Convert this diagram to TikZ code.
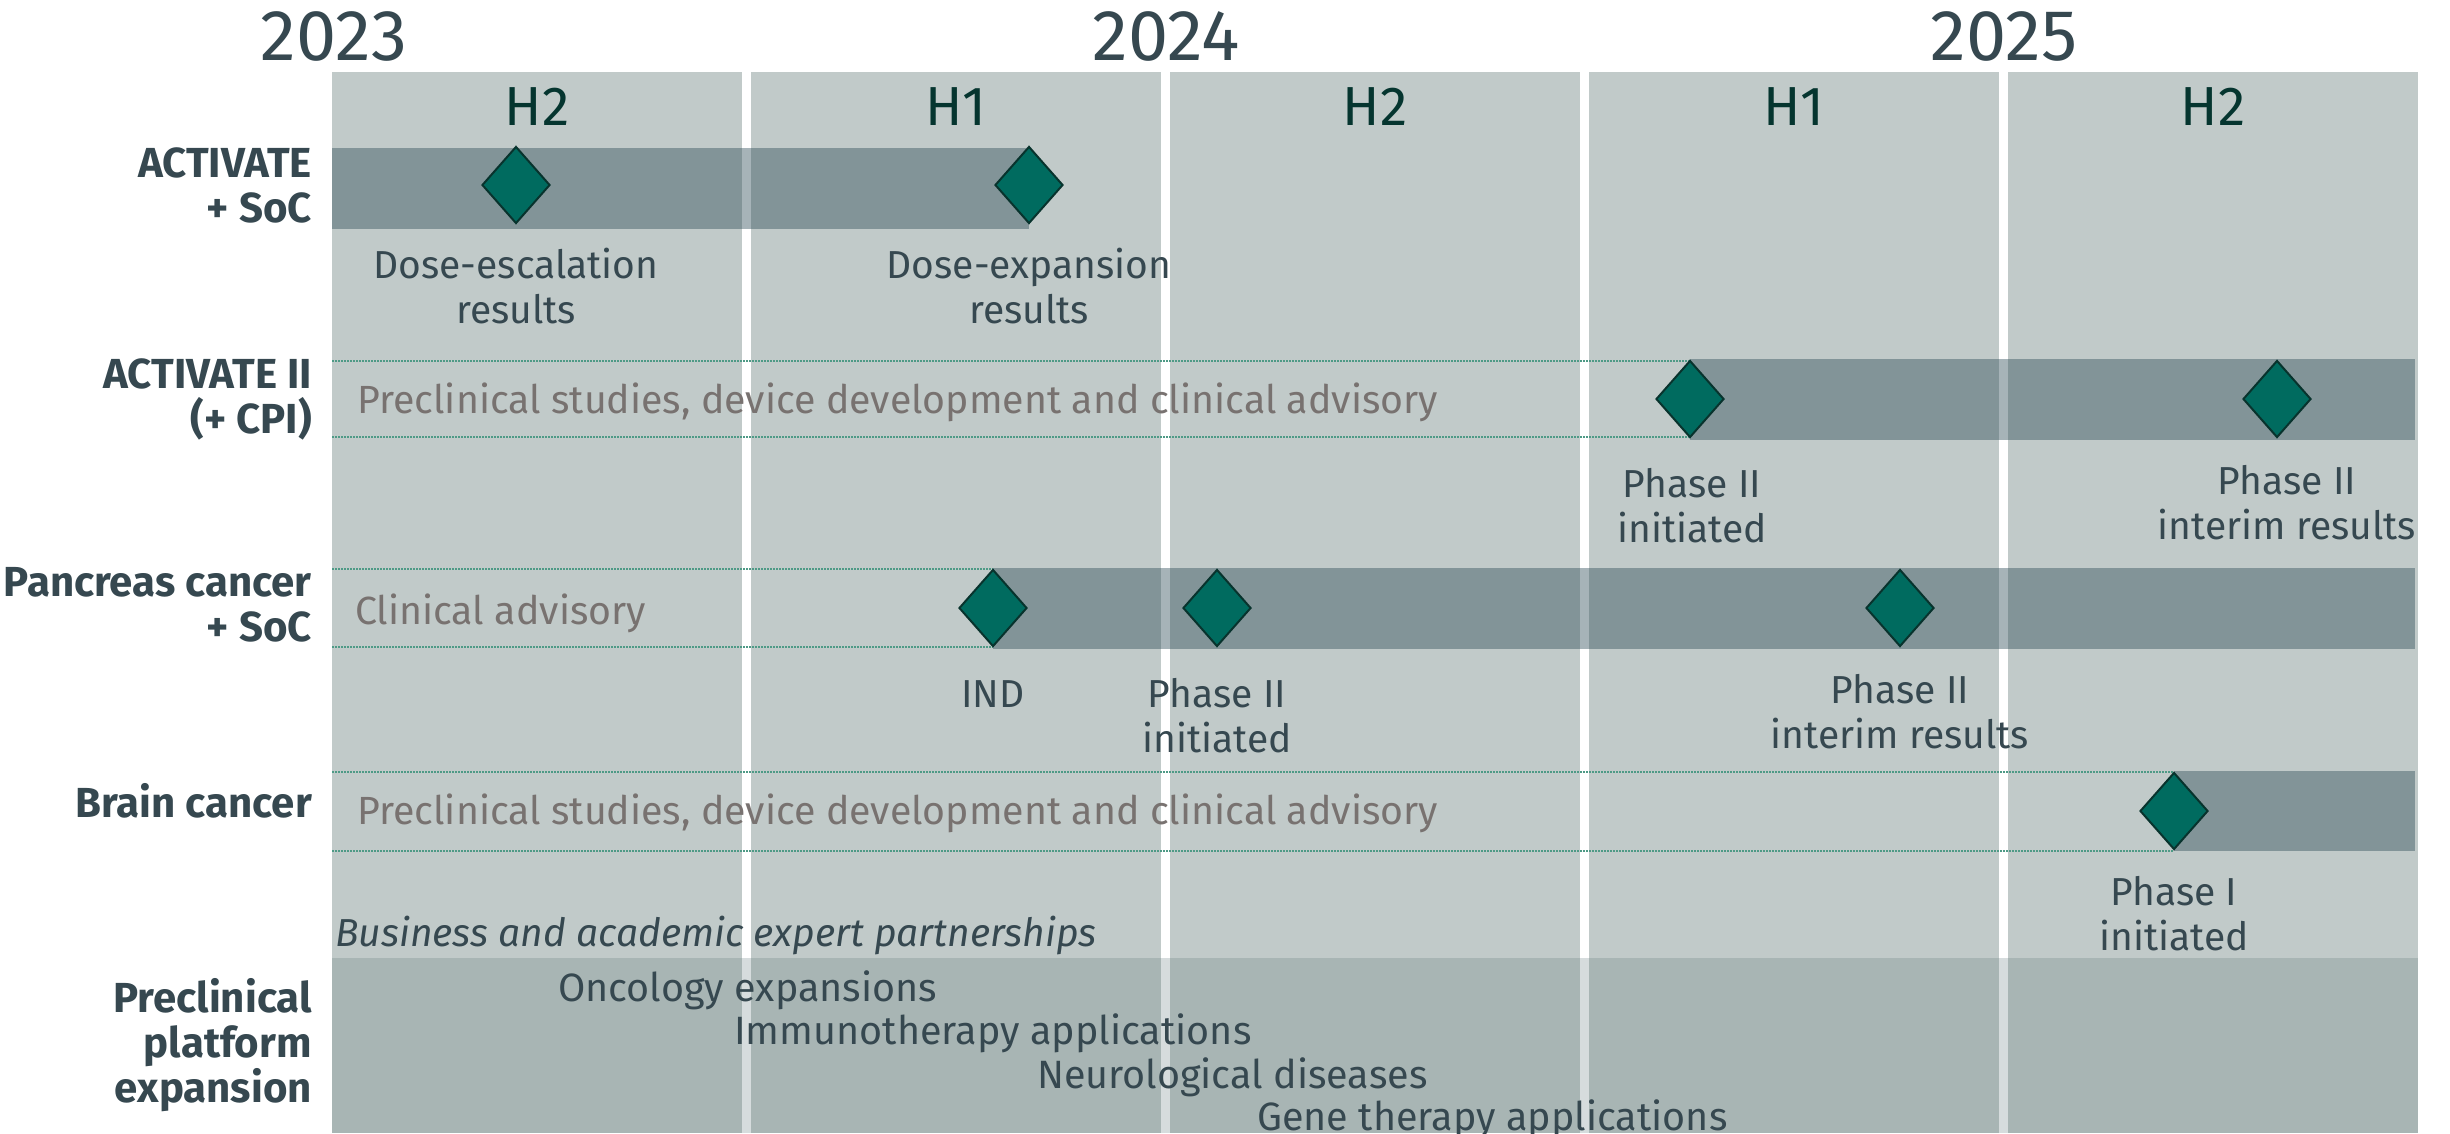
\documentclass[tikz,border=0pt]{standalone}
\usepackage{fontspec}
\setmainfont{Fira Sans}
\usetikzlibrary{positioning, shapes.geometric}

\definecolor{panelGray}{HTML}{C1CAC9}
\definecolor{barSlate}{HTML}{2B4A56}
\definecolor{baseSlate}{HTML}{61797B}
\definecolor{milestoneTeal}{HTML}{006B5F}
\definecolor{milestoneEdge}{HTML}{08332D}
\definecolor{textSlate}{HTML}{364850}
\definecolor{textGray}{HTML}{787270}
\definecolor{halfTeal}{HTML}{05352F}
\definecolor{dotTeal}{HTML}{4E9A86}

\begin{document}
\begin{tikzpicture}[x=1pt, y=-1pt,
	column/.style={fill=panelGray},
	phasebar/.style={fill=barSlate, fill opacity=0.42},
	platform/.style={fill=baseSlate, fill opacity=0.26},
	guide/.style={draw=dotTeal, line width=1.2pt, dash pattern=on 1.5pt off 1.5pt},
	milestone/.style={diamond, draw=milestoneEdge, line width=2pt, fill=milestoneTeal,
		minimum width=68pt, minimum height=77pt, inner sep=0pt},
	mlabel/.style={anchor=base, align=center, inner sep=0pt, text=textSlate,
		font=\fontsize{39}{45}\selectfont},
	rowlabel/.style={anchor=base east, align=right, inner sep=0pt, text=textSlate,
		font=\fontsize{42}{45}\selectfont\bfseries},
	activity/.style={anchor=base west, inner sep=0pt, text=textGray,
		font=\fontsize{39.3}{45}\selectfont},
	area/.style={anchor=base west, inner sep=0pt, text=textSlate,
		font=\fontsize{39.5}{45}\selectfont},
	yearlabel/.style={anchor=base, inner sep=0pt, text=textSlate,
		font=\fontsize{72}{76}\selectfont},
	halflabel/.style={anchor=base, inner sep=0pt, text=halfTeal,
		font=\fontsize{55}{60}\selectfont}]
	
	\useasboundingbox (0,0) rectangle (2450,1133);
	
	%Columns
	\fill[column] (332,72) rectangle (742,1133);
	\fill[column] (751,72) rectangle (1161,1133);
	\fill[column] (1170,72) rectangle (1580,1133);
	\fill[column] (1589,72) rectangle (1999,1133);
	\fill[column] (2008,72) rectangle (2418,1133);
	
	%Years and halves
	\node (y2023) at (334,60) [yearlabel] {2023};
	\node (y2024) at (1166,60) [yearlabel] {2024};
	\node (y2025) at (2004,60) [yearlabel] {2025};
	
	\node (h23b) at (537,125) [halflabel] {H2};
	\node (h24a) at (956,125) [halflabel] {H1};
	\node (h24b) at (1375,125) [halflabel] {H2};
	\node (h25a) at (1794,125) [halflabel] {H1};
	\node (h25b) at (2213,125) [halflabel] {H2};
	
	%Bars
	\fill[phasebar] (332,148) rectangle (1029,229);
	\fill[phasebar] (1690,359) rectangle (2415,440);
	\fill[phasebar] (993,568) rectangle (2415,649);
	\fill[phasebar] (2174,771) rectangle (2415,851);
	\fill[platform] (332,958) rectangle (2418,1133);
	
	%Guides
	\draw[guide] (332,361) -- (1690,361);
	\draw[guide] (332,437) -- (1690,437);
	\draw[guide] (332,569) -- (993,569);
	\draw[guide] (332,647) -- (993,647);
	\draw[guide] (332,772) -- (2174,772);
	\draw[guide] (332,851) -- (2174,851);
	
	%Milestones
	\node (doseEsc) at (516,185) [milestone] {};
	\node (doseExp) at (1029,185) [milestone] {};
	\node (actTwoStart) at (1690,399) [milestone] {};
	\node (actTwoInterim) at (2277,399) [milestone] {};
	\node (pancIND) at (993,608) [milestone] {};
	\node (pancStart) at (1217,608) [milestone] {};
	\node (pancInterim) at (1900,608) [milestone] {};
	\node (brainStart) at (2174,811) [milestone] {};
	
	% base of a two-line label is its last line
	\node (doseEscText) at (516,323) [mlabel] {Dose-escalation\\results};
	\node (doseExpText) at (1029,323) [mlabel] {Dose-expansion\\results};
	\node (actTwoStartText) at (1692,542) [mlabel] {Phase II\\initiated};
	\node (actTwoInterimText) at (2287,539) [mlabel] {Phase II\\interim results};
	\node (pancINDText) at (993,707) [mlabel] {IND};
	\node (pancStartText) at (1217,752) [mlabel] {Phase II\\initiated};
	\node (pancInterimText) at (1900,748) [mlabel] {Phase II\\interim results};
	\node (brainStartText) at (2174,950) [mlabel] {Phase I\\initiated};
	
	%Rows
	\node (activate) at (312,222) [rowlabel] {ACTIVATE\\+ SoC};
	\node (activateTwo) at (312,433) [rowlabel] {ACTIVATE II\\(+ CPI)};
	\node (pancreas) at (312,641) [rowlabel] {Pancreas cancer\\+ SoC};
	\node (brain) at (312,817) [rowlabel] {Brain cancer};
	\node (preclinical) at (312,1102) [rowlabel] {Preclinical\\platform\\expansion};
	
	\node (actTwoPrep) at (357,413) [activity] {Preclinical studies, device development and clinical advisory};
	\node (pancPrep) at (355,624) [activity] {Clinical advisory};
	\node (brainPrep) at (357,824) [activity] {Preclinical studies, device development and clinical advisory};
	
	%Platform
	\node (partners) at (335,946) [area, font=\fontsize{39}{45}\selectfont\itshape] {Business and academic expert partnerships};
	\node (oncology) at (558,1001) [area] {Oncology expansions};
	\node (immuno) at (734,1044) [area] {Immunotherapy applications};
	\node (neuro) at (1037,1088) [area] {Neurological diseases};
	\node (gene) at (1257,1130) [area] {Gene therapy applications};
	
\end{tikzpicture}
\end{document}
